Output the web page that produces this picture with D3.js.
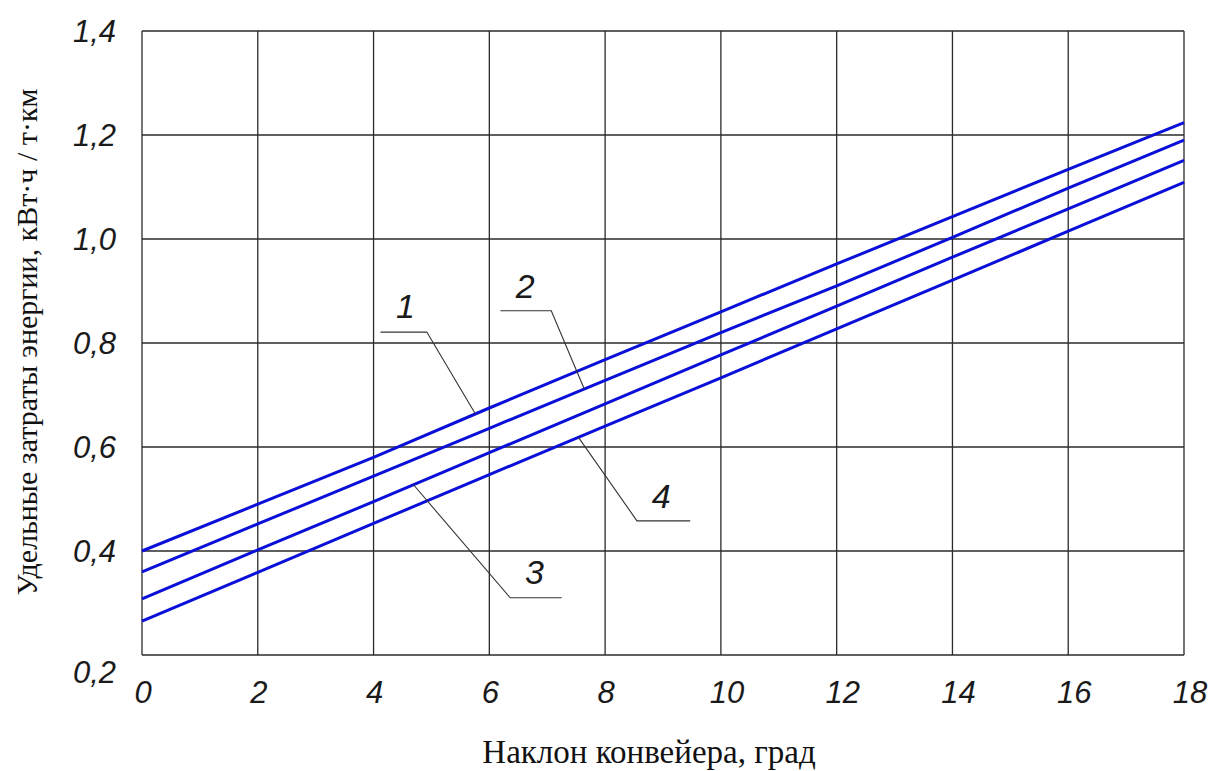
<!DOCTYPE html>
<html>
<head>
<meta charset="utf-8">
<script src="https://cdn.jsdelivr.net/npm/d3@7"></script>
<style>
  body { margin: 0; background: #fff; }
  .tick-label { font-family: "Liberation Sans", Arial, sans-serif; font-style: italic; fill: #1a1a1a; stroke: #fff; stroke-width: 0.7px; paint-order: stroke; }
  .axis-title { font-family: "Liberation Serif", "Times New Roman", serif; fill: #111; }
</style>
</head>
<body>
<div id="chart"></div>
<script>
// angle of conveyor, degrees
var xValues = [0, 2, 4, 6, 8, 10, 12, 14, 16, 18];
var series1 = [0.400, 0.490, 0.580, 0.675, 0.768, 0.860, 0.952, 1.043, 1.134, 1.224];
var series2 = [0.360, 0.452, 0.544, 0.636, 0.728, 0.820, 0.910, 1.003, 1.098, 1.190];
var series3 = [0.308, 0.402, 0.495, 0.589, 0.683, 0.777, 0.871, 0.965, 1.058, 1.151];
var series4 = [0.265, 0.359, 0.453, 0.547, 0.640, 0.733, 0.827, 0.921, 1.015, 1.109];
var seriesNames = ['1', '2', '3', '4'];
var xTicks = [0, 2, 4, 6, 8, 10, 12, 14, 16, 18];
var yTicks = [0.2, 0.4, 0.6, 0.8, 1.0, 1.2, 1.4];
// leader lines: touch x on the curve, elbow point, end x, label position (data units)
var leaderTouchX = [5.76, 7.64, 4.69, 7.54];
var leaderElbow = [[4.92, 0.821], [7.07, 0.862], [6.36, 0.310], [8.55, 0.458]];
var leaderEndX = [4.12, 6.19, 7.25, 9.47];
var labelPos = [[4.55, 0.871], [6.62, 0.909], [6.78, 0.360], [8.97, 0.505]];

var width = 1211, height = 771,
    margin = { top: 31, right: 27, bottom: 116, left: 142 },
    innerW = 1184 - margin.left,
    innerH = 655 - margin.top;

var x = d3.scaleLinear().domain([0, 18]).range([0, innerW]),
    y = d3.scaleLinear().domain([0.2, 1.4]).range([innerH, 0]),
    fmt = function (d) { return d3.format('.1f')(d).replace('.', ','); };

var svg = d3.select('#chart').append('svg').attr('width', width).attr('height', height);
var g = svg.append('g').attr('transform', 'translate(' + margin.left + ',' + margin.top + ')');

// grid
g.append('g').selectAll('line').data(xTicks).enter().append('line')
  .attr('x1', function (d) { return x(d); }).attr('x2', function (d) { return x(d); })
  .attr('y1', 0).attr('y2', innerH)
  .attr('stroke', '#2a2a2a').attr('stroke-width', 1.3);
g.append('g').selectAll('line').data(yTicks).enter().append('line')
  .attr('y1', function (d) { return y(d); }).attr('y2', function (d) { return y(d); })
  .attr('x1', 0).attr('x2', innerW)
  .attr('stroke', '#2a2a2a').attr('stroke-width', 1.3);

// tick labels
g.append('g').selectAll('text').data(xTicks).enter().append('text')
  .attr('class', 'tick-label')
  .attr('x', function (d) { return x(d) + (d >= 10 ? 6 : 1); })
  .attr('y', innerH + 48)
  .attr('text-anchor', 'middle')
  .style('font-size', '31px')
  .text(function (d) { return d; });
g.append('g').selectAll('text').data(yTicks).enter().append('text')
  .attr('class', 'tick-label')
  .attr('x', -26)
  .attr('y', function (d, i) { return y(d) + (i === 0 ? 28 : 11); })
  .attr('text-anchor', 'end')
  .style('font-size', '31px')
  .text(fmt);

// curves
var allSeries = [series1, series2, series3, series4];
var line = d3.line()
  .x(function (d, i) { return x(xValues[i]); })
  .y(function (d) { return y(d); });
g.append('g').selectAll('path').data(allSeries).enter().append('path')
  .attr('d', line)
  .attr('fill', 'none')
  .attr('stroke', '#0a10d8')
  .attr('stroke-width', 3);

// leaders
function valueAt(s, xv) {
  var interp = d3.scaleLinear().domain(xValues).range(s);
  return interp(xv);
}
var leaders = g.append('g');
seriesNames.forEach(function (name, i) {
  var pts = [
    [x(leaderTouchX[i]), y(valueAt(allSeries[i], leaderTouchX[i]))],
    [x(leaderElbow[i][0]), y(leaderElbow[i][1])],
    [x(leaderEndX[i]), y(leaderElbow[i][1])]
  ];
  leaders.append('path')
    .attr('d', d3.line()(pts))
    .attr('fill', 'none')
    .attr('stroke', '#333')
    .attr('stroke-width', 1.1);
  leaders.append('text')
    .attr('class', 'tick-label')
    .attr('x', x(labelPos[i][0]))
    .attr('y', y(labelPos[i][1]) + 12)
    .attr('text-anchor', 'middle')
    .style('font-size', '34px')
    .text(name);
});

// axis titles
svg.append('text')
  .attr('class', 'axis-title')
  .attr('transform', 'translate(37,342) rotate(-90)')
  .attr('text-anchor', 'middle')
  .style('font-size', '30px')
  .text('Удельные затраты энергии, кВт·ч / т·км');
svg.append('text')
  .attr('class', 'axis-title')
  .attr('x', 649)
  .attr('y', 763)
  .attr('text-anchor', 'middle')
  .style('font-size', '33px')
  .text('Наклон конвейера, град');
</script>
</body>
</html>
